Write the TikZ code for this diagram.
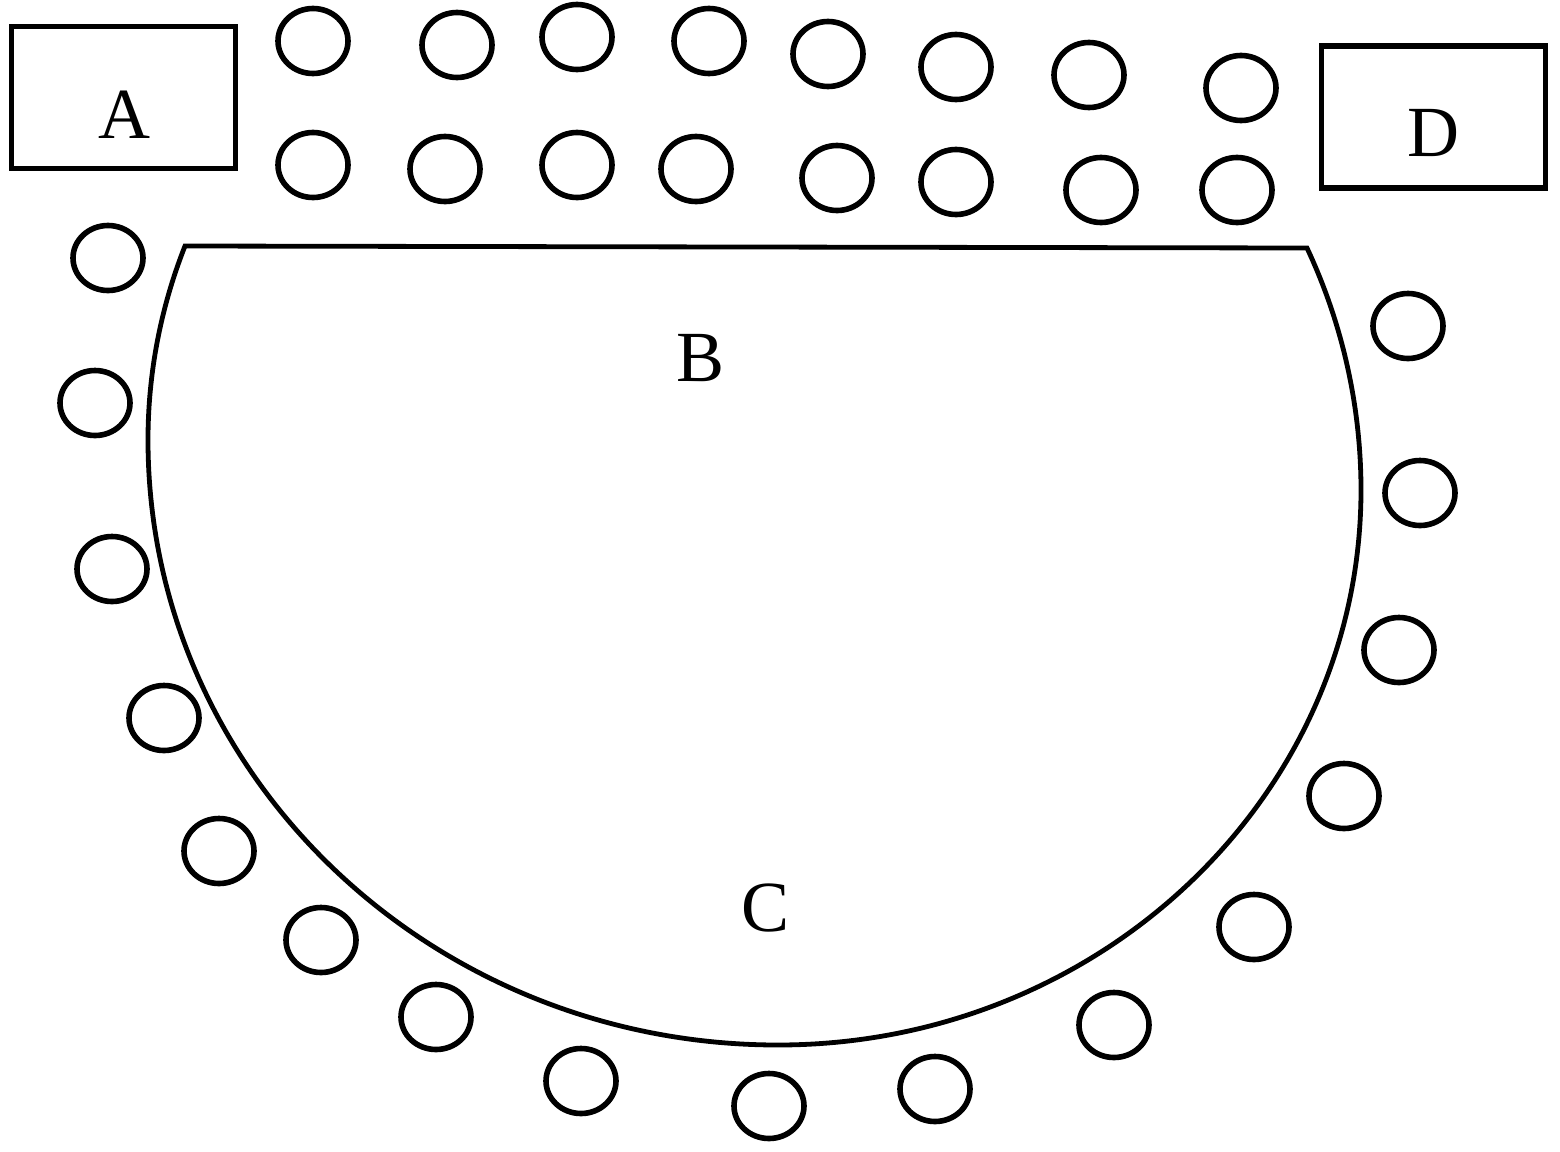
\documentclass[tikz,border=0pt]{standalone}
\usepackage{fontspec}
\setmainfont{Liberation Serif}
\usetikzlibrary{shapes.geometric}
\begin{document}
\begin{tikzpicture}[x=0.5pt,y=0.5pt,
  seat/.style={ellipse,draw,line width=2.8pt,minimum width=35pt,minimum height=32.5pt,inner sep=0pt},
  boxx/.style={draw,line width=2.6pt,minimum width=112pt,minimum height=71pt,inner sep=0pt},
  lbl/.style={font=\fontsize{36}{40}\selectfont,inner sep=0pt}]
\useasboundingbox (0,0) rectangle (1560,-1152);
% boxes
\node[boxx] (A) at (123.5,-97.5) {};
\node[lbl] (Alab) at (124,-115) {A};
\node[boxx] (D) at (1433.5,-117) {};
\node[lbl] (Dlab) at (1433,-133) {D};
% table
\coordinate (tl) at (185,-246);
\coordinate (tr) at (1307,-248);
\draw[line width=2.4pt,line join=miter] (tl) .. controls (160.4,-308.4) and (148,-373.7) .. (148,-440)
  .. controls (148,-774) and (430,-1045) .. (778,-1045)
  .. controls (1100,-1045) and (1361,-796) .. (1361,-490)
  .. controls (1361,-406.6) and (1342.5,-323.7) .. (tr) -- (tl) -- cycle;
\node[lbl] (B) at (701,-358) {B};
\node[lbl] (C) at (766,-908) {C};
% seats
\foreach \i/\x/\y in {1/313/41,2/457/45,3/577/37,4/709/41,5/828/54,6/956/67,7/1089/75,8/1241/88,
 9/313/165,10/445/169,11/577/165,12/696/169,13/837/178,14/956/182,15/1101/190,16/1237/190,
 17/108/258,18/95/403,19/112/569,20/164/718,21/219/851,22/321/940,23/436/1017,24/581/1081,
 25/769/1106,26/935/1089,27/1114/1025,28/1254/927,29/1344/796,30/1399/650,31/1420/493,32/1408/326}
  \node[seat] (s\i) at (\x,-\y) {};
\end{tikzpicture}
\end{document}
